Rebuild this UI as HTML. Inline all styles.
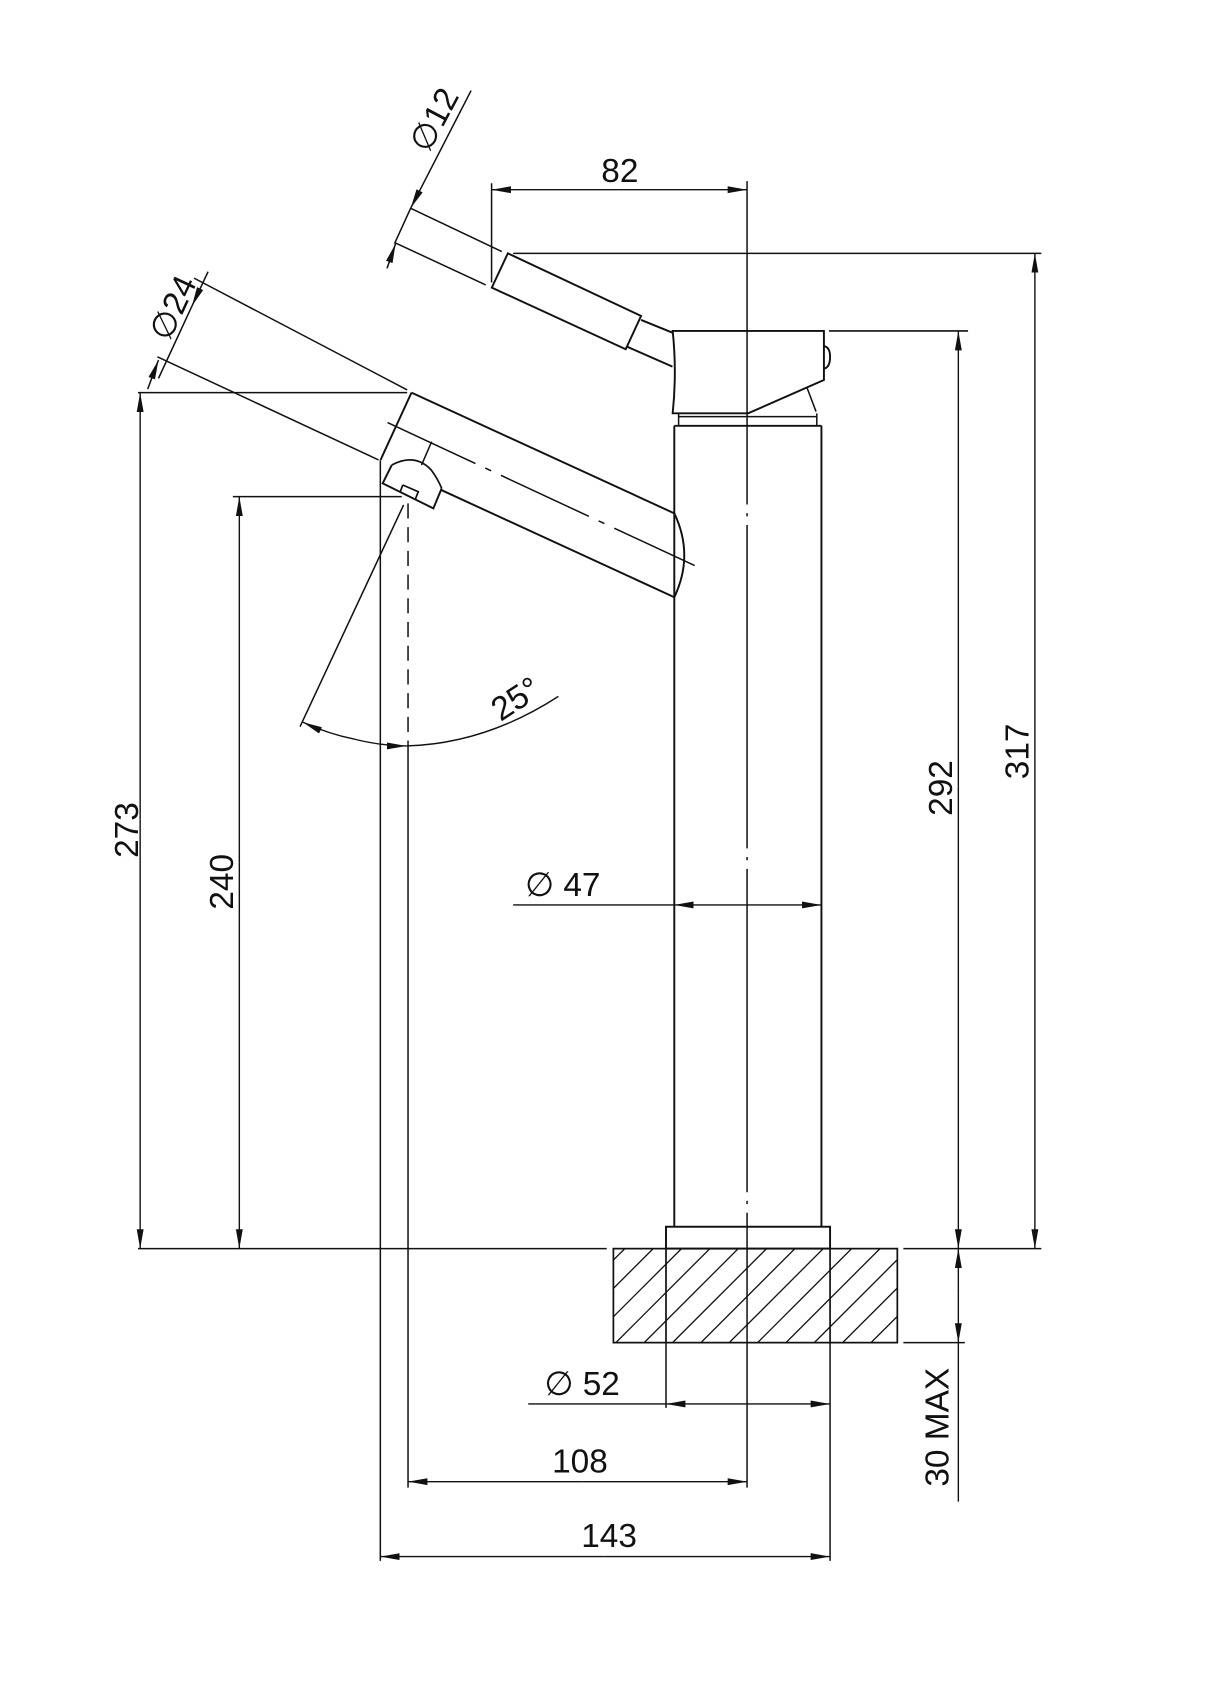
<!DOCTYPE html>
<html><head><meta charset="utf-8"><style>
html,body{margin:0;padding:0;background:#fff;}
svg{display:block;}
text{font-family:"Liberation Sans",sans-serif;font-size:31px;fill:#111;}
</style></head><body>
<svg width="1216" height="1692" viewBox="0 0 1128 1569.6" xmlns="http://www.w3.org/2000/svg">
<defs>
<marker id="a" markerWidth="18" markerHeight="8" refX="18" refY="4" orient="auto" markerUnits="userSpaceOnUse">
<path d="M0,0.8 L18,4 L0,7.2 Z" fill="#111"/></marker>
</defs>
<g stroke="#111" fill="none" stroke-width="1.4">
<line x1="693" y1="168" x2="693" y2="1380" stroke-dasharray="300,8,3,8"/>
<line x1="625.5" y1="395" x2="625.5" y2="1138" stroke-width="1.8"/>
<line x1="762" y1="395" x2="762" y2="1138" stroke-width="1.8"/>
<line x1="625.5" y1="395" x2="762" y2="395" stroke-width="1.8"/>
<line x1="629.5" y1="386.5" x2="757.7" y2="386.5"/>
<line x1="629.5" y1="383.5" x2="629.5" y2="395"/>
<line x1="757.7" y1="383.5" x2="757.7" y2="395"/>
<rect x="617.8" y="1138" width="152.2" height="20.3" stroke-width="1.8"/>
<path d="M624,307 L764.3,307 L764.3,352.5 L694,383.4 L624,383.4 Q628,345 624,307 Z" stroke-width="1.8"/>
<path d="M748.8,360.2 L757,381.8" />
<path d="M764.3,321 Q770,322 770,331 Q770,341 764.3,342" stroke-width="1.8"/>
<line x1="594.7" y1="296.8" x2="623.8" y2="308.6" stroke-width="1.8"/>
<line x1="581.4" y1="321.5" x2="623.8" y2="340.1" stroke-width="1.8"/>
<path d="M471.1,235 L594.7,293.1 L580.4,324 L456.2,266.8 Z" stroke-width="1.8"/>
<path d="M381.7,364.2 L625.5,476.2 Q644,515 625.5,554 L409.2,454.5" stroke-width="1.8"/>
<path d="M381.7,364.2 L353,426.7" stroke-width="1.8"/>
<line x1="400.4" y1="409.7" x2="391" y2="431.4"/>
<line x1="359.5" y1="392" x2="644.4" y2="524.7" stroke-dasharray="90,10,6,10"/>
<path d="M363.4,431.4 L355,448.4 L402,471.6 L409.7,453" stroke-width="1.8"/>
<path d="M363.4,431.4 Q385,420 400,436 Q406,444 409.7,453" stroke-width="1.6"/>
<path d="M373.6,449.9 L388,456.1 L385,463.8 M371,457 L373.6,449.9" stroke-width="1.6"/>
<line x1="180" y1="258" x2="377.7" y2="361.7"/>
<line x1="146" y1="331" x2="351.2" y2="426.7"/>
<line x1="381" y1="193.2" x2="465.5" y2="233.4"/>
<line x1="366" y1="225" x2="450.6" y2="264.3"/>
<line x1="193" y1="252" x2="178" y2="284" marker-end="url(#a)" />
<line x1="178" y1="284" x2="147" y2="351"/>
<line x1="137" y1="361" x2="147" y2="334" marker-end="url(#a)"/>
<line x1="437" y1="84" x2="381" y2="193" marker-end="url(#a)"/>
<line x1="381" y1="193" x2="366" y2="226"/>
<line x1="359" y1="249" x2="367" y2="226" marker-end="url(#a)"/>
<line x1="128" y1="364.2" x2="377.7" y2="364.2"/>
<line x1="216" y1="460.7" x2="372.7" y2="460.7"/>
<line x1="476" y1="235" x2="966" y2="235"/>
<line x1="769" y1="307" x2="898" y2="307"/>
<line x1="128" y1="1158.3" x2="562.8" y2="1158.3"/>
<line x1="838" y1="1158.3" x2="966" y2="1158.3"/>
<line x1="838" y1="1245.5" x2="895" y2="1245.5"/>
<line x1="352.8" y1="427" x2="352.8" y2="1448"/>
<line x1="378.5" y1="467" x2="378.5" y2="690" stroke-dasharray="14,8" />
<line x1="378.5" y1="690" x2="378.5" y2="1380"/>
<line x1="456" y1="170" x2="456" y2="262"/>
<line x1="617.8" y1="1158" x2="617.8" y2="1306"/>
<line x1="770" y1="1158" x2="770" y2="1448"/>
<line x1="374.4" y1="468.4" x2="278.3" y2="674.1"/>
<rect x="569" y="1158.3" width="263.4" height="87.2" stroke-width="1.6"/>
</g>
<clipPath id="c"><rect x="569" y="1158.3" width="263.4" height="87.2"/></clipPath>
<g clip-path="url(#c)" stroke="#111" stroke-width="1.2">
<line x1="545" y1="1245.5" x2="632.2" y2="1158.3"/>
<line x1="571.3" y1="1245.5" x2="658.5" y2="1158.3"/>
<line x1="597.6" y1="1245.5" x2="684.8" y2="1158.3"/>
<line x1="623.9" y1="1245.5" x2="711.1" y2="1158.3"/>
<line x1="650.2" y1="1245.5" x2="737.4" y2="1158.3"/>
<line x1="676.5" y1="1245.5" x2="763.7" y2="1158.3"/>
<line x1="702.8" y1="1245.5" x2="790" y2="1158.3"/>
<line x1="729.1" y1="1245.5" x2="816.3" y2="1158.3"/>
<line x1="755.4" y1="1245.5" x2="842.6" y2="1158.3"/>
<line x1="781.7" y1="1245.5" x2="868.9" y2="1158.3"/>
<line x1="808" y1="1245.5" x2="895.2" y2="1158.3"/>
<line x1="518.7" y1="1245.5" x2="605.9" y2="1158.3"/>
<line x1="492.4" y1="1245.5" x2="579.6" y2="1158.3"/>
</g>
<g stroke="#111" fill="none" stroke-width="1.3">
<line x1="617.8" y1="1158.3" x2="617.8" y2="1245.5"/>
<line x1="770" y1="1158.3" x2="770" y2="1245.5"/>
<line x1="574" y1="176" x2="456" y2="176" marker-end="url(#a)"/>
<line x1="574" y1="176" x2="693" y2="176" marker-end="url(#a)"/>
<line x1="960" y1="700" x2="960" y2="235" marker-end="url(#a)"/>
<line x1="960" y1="700" x2="960" y2="1158.3" marker-end="url(#a)"/>
<line x1="889" y1="730" x2="889" y2="307" marker-end="url(#a)"/>
<line x1="889" y1="730" x2="889" y2="1158.3" marker-end="url(#a)"/>
<line x1="130" y1="760" x2="130" y2="364.2" marker-end="url(#a)"/>
<line x1="130" y1="760" x2="130" y2="1158.3" marker-end="url(#a)"/>
<line x1="222" y1="800" x2="222" y2="460.7" marker-end="url(#a)"/>
<line x1="222" y1="800" x2="222" y2="1158.3" marker-end="url(#a)"/>
<line x1="889" y1="1200" x2="889" y2="1158.3" marker-end="url(#a)"/>
<line x1="889" y1="1200" x2="889" y2="1245.5" marker-end="url(#a)"/>
<line x1="889" y1="1245.5" x2="889" y2="1393"/>
<line x1="476" y1="839.5" x2="625.5" y2="839.5"/>
<line x1="700" y1="839.5" x2="625.5" y2="839.5" marker-end="url(#a)"/>
<line x1="700" y1="839.5" x2="762" y2="839.5" marker-end="url(#a)"/>
<line x1="490" y1="1302.4" x2="617.8" y2="1302.4"/>
<line x1="700" y1="1302.4" x2="617.8" y2="1302.4" marker-end="url(#a)"/>
<line x1="700" y1="1302.4" x2="770" y2="1302.4" marker-end="url(#a)"/>
<line x1="540" y1="1374.5" x2="378.5" y2="1374.5" marker-end="url(#a)"/>
<line x1="540" y1="1374.5" x2="693" y2="1374.5" marker-end="url(#a)"/>
<line x1="560" y1="1444" x2="352.8" y2="1444" marker-end="url(#a)"/>
<line x1="560" y1="1444" x2="770" y2="1444" marker-end="url(#a)"/>
<path d="M330,686 A222,222 0 0 1 281,670" marker-end="url(#a)"/>
<path d="M330,686 Q355,692 377,692" marker-end="url(#a)"/>
<path d="M377,692 Q450,690 518,646"/>
</g>
<g>
<text x="575" y="169" text-anchor="middle">82</text>
<text transform="translate(412,116) rotate(-62)" text-anchor="middle">∅12</text>
<text transform="translate(170,290) rotate(-65)" text-anchor="middle">∅24</text>
<text transform="translate(128,770) rotate(-90)" text-anchor="middle">273</text>
<text transform="translate(216,818) rotate(-90)" text-anchor="middle">240</text>
<text transform="translate(883,731) rotate(-90)" text-anchor="middle">292</text>
<text transform="translate(954,697) rotate(-90)" text-anchor="middle">317</text>
<text transform="translate(880,1324) rotate(-90)" text-anchor="middle">30 MAX</text>
<text transform="translate(484,657) rotate(-33)" text-anchor="middle">25°</text>
<text x="522" y="831" text-anchor="middle">∅ 47</text>
<text x="540" y="1294" text-anchor="middle">∅ 52</text>
<text x="538" y="1366" text-anchor="middle">108</text>
<text x="565" y="1435" text-anchor="middle">143</text>
</g>
</svg>
</body></html>
